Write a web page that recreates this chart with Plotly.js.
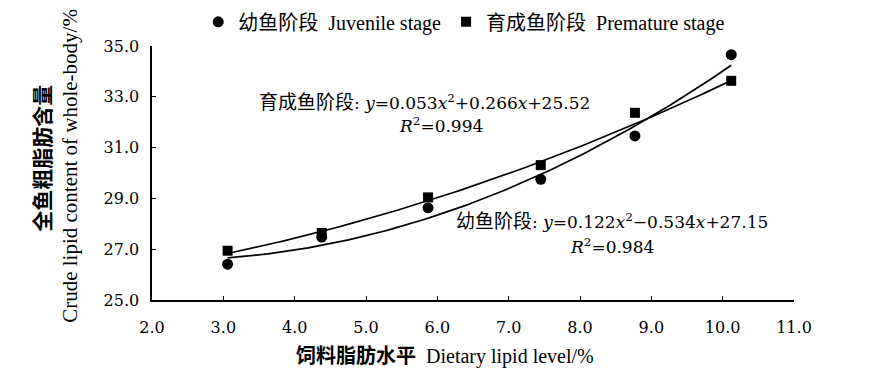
<!DOCTYPE html>
<html><head><meta charset="utf-8">
<script src="https://cdn.plot.ly/plotly-3.0.1.min.js"></script>
<style>html,body{margin:0;padding:0;background:#fff;}</style>
</head><body>
<div id="chart" style="width:881px;height:381px;"></div>
<script>
// Dietary lipid level (%)
const lipidLevel = [3.06, 4.38, 5.87, 7.45, 8.77, 10.12];
// Juvenile stage whole-body crude lipid (%)
const juvenile = [26.41, 27.48, 28.63, 29.75, 31.46, 34.66];
// Premature stage whole-body crude lipid (%)
const premature = [26.94, 27.64, 29.04, 30.31, 32.37, 33.63];
// Quadratic fit coefficients shown on the chart [a, b, c] for y = a x^2 + b x + c
const juvenileFit = [0.122, -0.534, 27.15];
const prematureFit = [0.053, 0.266, 25.52];
const xTicks = [2, 3, 4, 5, 6, 7, 8, 9, 10, 11];
const yTicks = [25, 27, 29, 31, 33, 35];

function fitCurve(coef) {
  const xs = [], ys = [];
  const x0 = lipidLevel[0], x1 = lipidLevel[lipidLevel.length - 1];
  const n = 100;
  for (let i = 0; i <= n; i++) {
    const x = x0 + (x1 - x0) * i / n;
    xs.push(x);
    ys.push(coef[0] * x * x + coef[1] * x + coef[2]);
  }
  return {x: xs, y: ys};
}
const jf = fitCurve(juvenileFit), pf = fitCurve(prematureFit);

const times = 'Liberation Serif, Times New Roman, serif';
const wide = 'DejaVu Serif, serif';
const cjk = 'Noto Sans CJK SC, sans-serif';
const zh = (t, size) => '<span style="font-family:Noto Sans CJK SC;font-size:' + size + 'px">' + t + '</span>';

const traces = [
  {x: jf.x, y: jf.y, mode: 'lines', line: {color: '#000', width: 1.7}, showlegend: false, hoverinfo: 'skip'},
  {x: pf.x, y: pf.y, mode: 'lines', line: {color: '#000', width: 1.7}, showlegend: false, hoverinfo: 'skip'},
  {x: lipidLevel, y: juvenile, mode: 'markers', name: zh('幼鱼阶段', 20) + '  Juvenile stage',
   marker: {symbol: 'circle', size: 11, color: '#000'}},
  {x: lipidLevel, y: premature, mode: 'markers', name: zh('育成鱼阶段', 20) + '  Premature stage',
   marker: {symbol: 'square', size: 10, color: '#000'}}
];

const fmt = v => v.toFixed(1);
const layout = {
  width: 881, height: 381,
  margin: {l: 152, r: 87, t: 46, b: 81, autoexpand: false},
  paper_bgcolor: '#fff', plot_bgcolor: '#fff',
  font: {family: times, color: '#000', size: 16},
  showlegend: true,
  legend: {orientation: 'h', x: 0.072, xanchor: 'left', y: 1.095, yanchor: 'middle',
    font: {family: times, size: 20, color: '#000'}, itemwidth: 30, tracegroupgap: 0, bgcolor: 'rgba(0,0,0,0)'},
  xaxis: {range: [2, 11], tickvals: xTicks, ticktext: xTicks.map(fmt), ticks: 'inside', ticklen: 4,
    tickcolor: '#000', showline: true, linecolor: '#000', linewidth: 1.6, showgrid: false, zeroline: false,
    ticklabelstandoff: 12, tickfont: {family: wide, size: 16, color: '#000'}},
  yaxis: {range: [25, 35], tickvals: yTicks, ticktext: yTicks.map(fmt), ticks: 'inside', ticklen: 4,
    tickcolor: '#000', showline: true, linecolor: '#000', linewidth: 1.6, showgrid: false, zeroline: false,
    ticklabelstandoff: 8, tickfont: {family: wide, size: 16, color: '#000'}},
  annotations: [
    {xref: 'paper', yref: 'paper', x: -0.173, y: 0.56, xanchor: 'center', yanchor: 'middle', textangle: -90, showarrow: false,
     text: '<b>全鱼粗脂肪含量</b>', font: {family: cjk, size: 21, color: '#000'}},
    {xref: 'paper', yref: 'paper', x: -0.127, y: 0.53, xanchor: 'center', yanchor: 'middle', textangle: -90, showarrow: false,
     text: 'Crude lipid content of whole-body/%', font: {family: times, size: 21, color: '#000'}},
    {xref: 'paper', yref: 'paper', x: 0.457, y: -0.215, xanchor: 'center', yanchor: 'middle', showarrow: false,
     text: '<b>' + zh('饲料脂肪水平', 20) + '</b>  Dietary lipid level/%', font: {family: times, size: 20, color: '#000'}},
    {xref: 'x', yref: 'y', x: 3.47, y: 32.87, xanchor: 'left', yanchor: 'middle', showarrow: false,
     text: zh('育成鱼阶段', 19) + ': <i>y</i>=0.053<i>x</i><sup>2</sup>+0.266<i>x</i>+25.52',
     font: {family: wide, size: 17, color: '#000'}},
    {xref: 'x', yref: 'y', x: 5.43, y: 31.9, xanchor: 'left', yanchor: 'middle', showarrow: false,
     text: '<i>R</i><sup>2</sup>=0.994', font: {family: wide, size: 17, color: '#000'}},
    {xref: 'x', yref: 'y', x: 6.24, y: 28.15, xanchor: 'left', yanchor: 'middle', showarrow: false,
     text: zh('幼鱼阶段', 19) + ': <i>y</i>=0.122<i>x</i><sup>2</sup>−0.534<i>x</i>+27.15',
     font: {family: wide, size: 17, color: '#000'}},
    {xref: 'x', yref: 'y', x: 7.83, y: 27.13, xanchor: 'left', yanchor: 'middle', showarrow: false,
     text: '<i>R</i><sup>2</sup>=0.984', font: {family: wide, size: 17, color: '#000'}}
  ]
};
Plotly.newPlot('chart', traces, layout, {displayModeBar: false, staticPlot: true});
</script>
</body></html>
